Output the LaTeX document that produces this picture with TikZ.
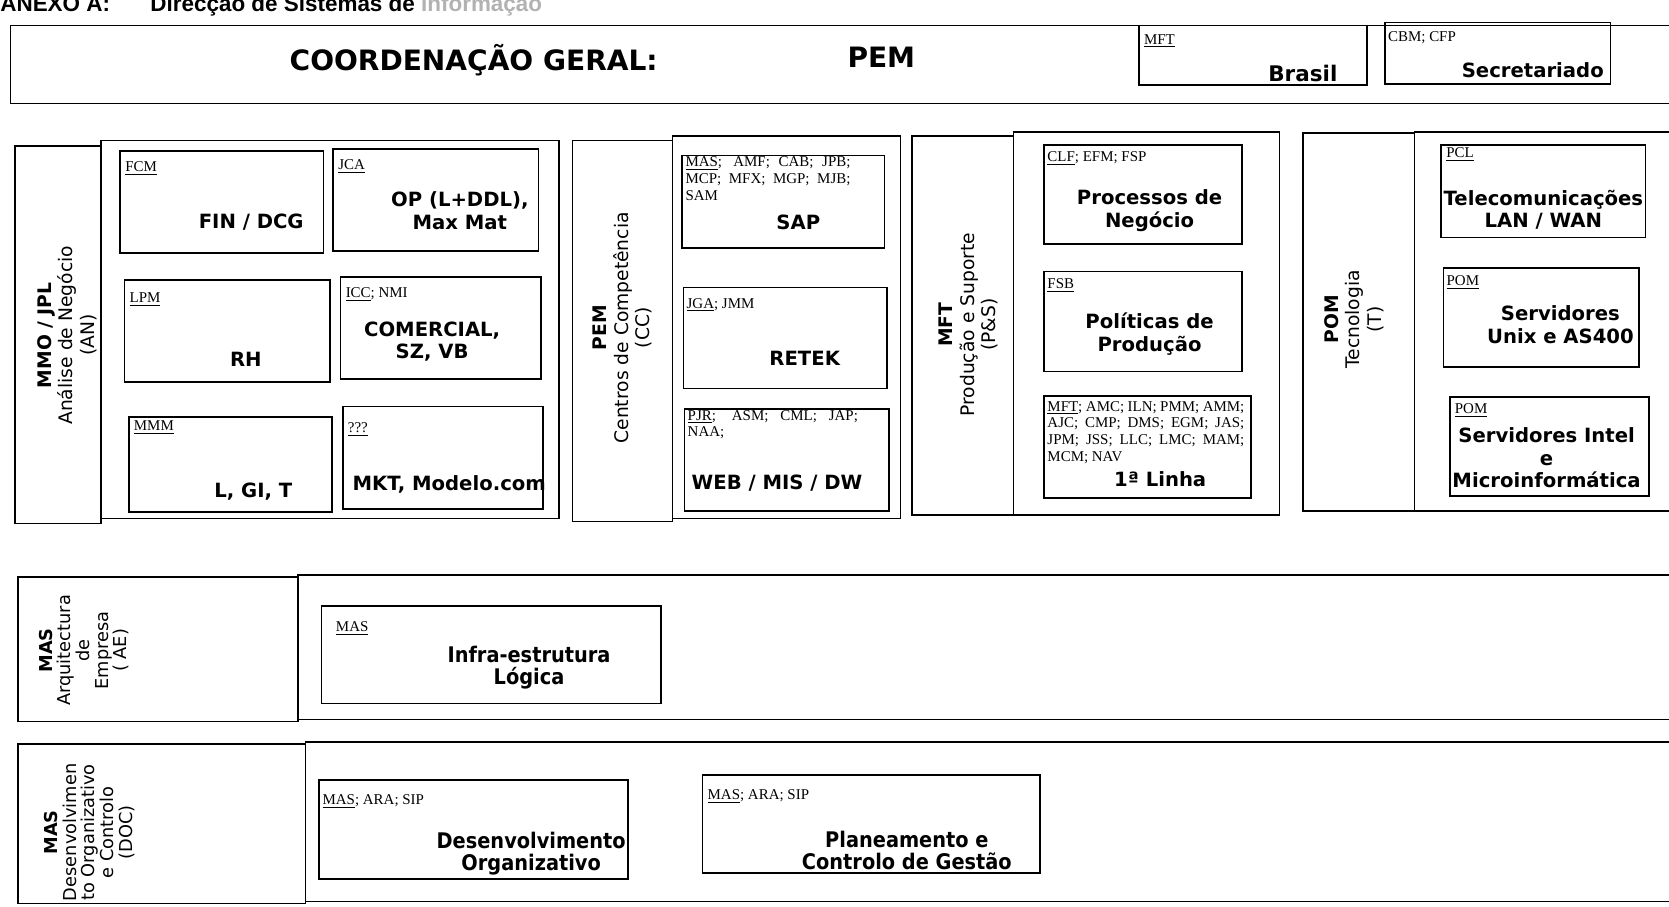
\documentclass[tikz,border=0pt]{standalone}
\usepackage{fontspec}
\setmainfont{DejaVu Sans}
\newfontfamily\tagfont{Liberation Serif}
\newfontfamily\condfont{DejaVu Sans Condensed}
\newfontfamily\headfont{Liberation Sans}
\usetikzlibrary{positioning,fit}

\begin{document}
\begin{tikzpicture}[x=0.02cm, y=-0.02cm,
    frame/.style={draw, line width=0.8pt, inner sep=0pt},
    unit/.style={draw, line width=0.9pt, inner sep=0pt},
    tag/.style={font=\tagfont\fontsize{8}{9}\selectfont, inner sep=0pt, align=left},
    title/.style={font=\bfseries\fontsize{10.5}{12}\selectfont, align=center, inner sep=0pt},
    cond/.style={font=\condfont\bfseries\fontsize{11.5}{12}\selectfont, align=center, inner sep=0pt},
    side/.style={rotate=90, align=center, font=\fontsize{10}{11.5}\selectfont, inner sep=0pt},
    sidesmall/.style={side, font=\fontsize{9.5}{10}\selectfont}]
    \useasboundingbox (0,0) rectangle (1568,852);

    \node [anchor=base west, inner sep=0pt, font=\headfont\bfseries\fontsize{12}{14}\selectfont] (annex) at (0,11) {ANEXO A:\hspace{1.8em}Direcção de Sistemas de {\color{black!30}Informação}};

    % coordenacao geral
    \node [frame, fit={(10,24)(1600,97)}] (geral) {};
    \node [font=\bfseries\fontsize{15}{17}\selectfont, inner sep=0pt] (geral_t) at (445,57) {COORDENAÇÃO GERAL:};
    \node [font=\bfseries\fontsize{15}{17}\selectfont, inner sep=0pt] (geral_pem) at (828,54) {PEM};
    \node [unit, fit={(1070,24)(1284,80)}] (brasil) {};
    \node [tag, below right=5pt and 3pt of brasil.north west] (brasil_tag) {\underline{MFT}};
    \node [title, font=\bfseries\fontsize{11.5}{12}\selectfont] (brasil_t) at (1224,69) {Brasil};
    \node [unit, fit={(1301,21)(1513,79)}] (secr) {};
    \node [tag, below right=5pt and 2pt of secr.north west] (secr_tag) {CBM; CFP};
    \node [title] (secr_t) at (1440,66) {Secretariado};

    % analise de negocio
    \node [frame, fit={(14,137)(95,492)}] (an) {};
    \node [frame, fit={(95,132)(525,487)}] (an_box) {};
    \node [side] (an_t) at (63,315) {\textbf{MMO / JPL}\\Análise de Negócio\\(AN)};
    \node [unit, fit={(113,142)(304,238)}] (fcm) {};
    \node [tag, below right=6pt and 3pt of fcm.north west] (fcm_tag) {\underline{FCM}};
    \node [title] (fcm_t) at (236,209) {FIN / DCG};
    \node [unit, fit={(313,140)(506,236)}] (jca) {};
    \node [tag, below right=6pt and 3pt of jca.north west] (jca_tag) {\underline{JCA}};
    \node [title] (jca_t) at (432,198) {OP (L+DDL),\\Max Mat};
    \node [unit, fit={(117,263)(310,359)}] (lpm) {};
    \node [tag, below right=7pt and 3pt of lpm.north west] (lpm_tag) {\underline{LPM}};
    \node [title] (lpm_t) at (231,338) {RH};
    \node [unit, fit={(320,260)(508,356)}] (icc) {};
    \node [tag, below right=6pt and 3pt of icc.north west] (icc_tag) {\underline{ICC}; NMI};
    \node [title] (icc_t) at (406,321) {COMERCIAL,\\SZ, VB};
    \node [unit, fit={(121,392)(312,481)}] (mmm) {};
    \node [tag, below right=2pt and 3pt of mmm.north west] (mmm_tag) {\underline{MMM}};
    \node [title] (mmm_t) at (238,462) {L, GI, T};
    \node [unit, fit={(322,382)(510,478)}] (mkt) {};
    \node [tag, below right=9pt and 3pt of mkt.north west] (mkt_tag) {\underline{???}};
    \node [title] (mkt_t) at (422,455) {MKT, Modelo.com};

    % centros de competencia
    \node [frame, fit={(538,132)(632,490)}] (cc) {};
    \node [frame, fit={(632,128)(846,487)}] (cc_box) {};
    \node [side] (cc_t) at (585,308) {\textbf{PEM}\\Centros de Competência\\(CC)};
    \node [unit, fit={(641,146)(831,233)}] (sap) {};
    \node [tag, below right=1pt and 2pt of sap.north west] (sap_tag) {\makebox[3.1cm][s]{\underline{MAS}; AMF; CAB; JPB;}\\\makebox[3.1cm][s]{MCP; MFX; MGP; MJB;}\\SAM};
    \node [title] (sap_t) at (750,209) {SAP};
    \node [unit, fit={(642,270)(833,365)}] (retek) {};
    \node [tag, below right=6pt and 2pt of retek.north west] (retek_tag) {\underline{JGA}; JMM};
    \node [title] (retek_t) at (756,337) {RETEK};
    \node [unit, fit={(643,384)(835,480)}] (web) {};
    \node [tag, below right=1pt and 2pt of web.north west] (web_tag) {\makebox[3.2cm][s]{\underline{PJR}; ASM; CML; JAP;}\\NAA;};
    \node [title] (web_t) at (730,454) {WEB / MIS / DW};

    % producao e suporte
    \node [frame, fit={(857,128)(952,484)}] (ps) {};
    \node [frame, fit={(952,124)(1202,484)}] (ps_box) {};
    \node [side] (ps_t) at (910,305) {\textbf{MFT}\\Produção e Suporte\\(P\&S)};
    \node [unit, fit={(981,136)(1167,229)}] (clf) {};
    \node [tag, below right=4pt and 2pt of clf.north west] (clf_tag) {\underline{CLF}; EFM; FSP};
    \node [title] (clf_t) at (1080,198) {Processos de\\Negócio};
    \node [unit, fit={(981,255)(1167,349)}] (fsb) {};
    \node [tag, below right=4pt and 2pt of fsb.north west] (fsb_tag) {\underline{FSB}};
    \node [title] (fsb_t) at (1080,314) {Políticas de\\Produção};
    \node [unit, fit={(981,372)(1175,468)}] (linha) {};
    \node [tag, below right=3pt and 2pt of linha.north west] (linha_tag) {\makebox[3.7cm][s]{\underline{MFT}; AMC; ILN; PMM; AMM;}\\\makebox[3.7cm][s]{AJC; CMP; DMS; EGM; JAS;}\\\makebox[3.7cm][s]{JPM; JSS; LLC; LMC; MAM;}\\MCM; NAV};
    \node [title] (linha_t) at (1090,450) {1ª Linha};

    % tecnologia
    \node [frame, fit={(1224,125)(1329,480)}] (tec) {};
    \node [frame, fit={(1329,124)(1600,480)}] (tec_box) {};
    \node [side] (tec_t) at (1272,300) {\textbf{POM}\\Tecnologia\\(T)};
    \node [unit, fit={(1354,136)(1546,223)}] (pcl) {};
    \node [tag, below right=2pt and 3pt of pcl.north west] (pcl_tag) {\underline{PCL}};
    \node [title] (pcl_t) at (1450,197) {Telecomunicações\\LAN / WAN};
    \node [unit, fit={(1356,252)(1540,345)}] (unix) {};
    \node [tag, below right=4pt and 2pt of unix.north west] (unix_tag) {\underline{POM}};
    \node [title] (unix_t) at (1466,305) {Servidores\\Unix e AS400};
    \node [unit, fit={(1362,373)(1549,466)}] (intel) {};
    \node [tag, below right=4pt and 3pt of intel.north west] (intel_tag) {\underline{POM}};
    \node [title] (intel_t) at (1453,430) {Servidores Intel\\e\\Microinformática};

    % arquitectura de empresa
    \node [frame, fit={(17,542)(280,678)}] (ae) {};
    \node [frame, fit={(280,540)(1600,676)}] (ae_box) {};
    \node [sidesmall] (ae_t) at (79,611) {\textbf{MAS}\\Arquitectura\\de\\Empresa\\( AE)};
    \node [unit, fit={(302,569)(621,661)}] (infra) {};
    \node [tag, below right=9pt and 8pt of infra.north west] (infra_tag) {\underline{MAS}};
    \node [cond] (infra_t) at (497,627) {Infra-estrutura\\Lógica};

    % desenvolvimento organizativo
    \node [frame, fit={(17,699)(287,849)}] (doc) {};
    \node [frame, fit={(287,697)(1600,847)}] (doc_box) {};
    \node [sidesmall] (doc_t) at (84,782) {\textbf{MAS}\\Desenvolvimen\\to Organizativo\\e Controlo\\(DOC)};
    \node [unit, fit={(300,733)(590,826)}] (desorg) {};
    \node [tag, below right=8pt and 2pt of desorg.north west] (desorg_tag) {\underline{MAS}; ARA; SIP};
    \node [cond] (desorg_t) at (499,802) {Desenvolvimento\\Organizativo};
    \node [unit, fit={(660,728)(977,820)}] (plan) {};
    \node [tag, below right=8pt and 3pt of plan.north west] (plan_tag) {\underline{MAS}; ARA; SIP};
    \node [cond] (plan_t) at (852,799) {Planeamento e\\Controlo de Gestão};
\end{tikzpicture}
\end{document}
